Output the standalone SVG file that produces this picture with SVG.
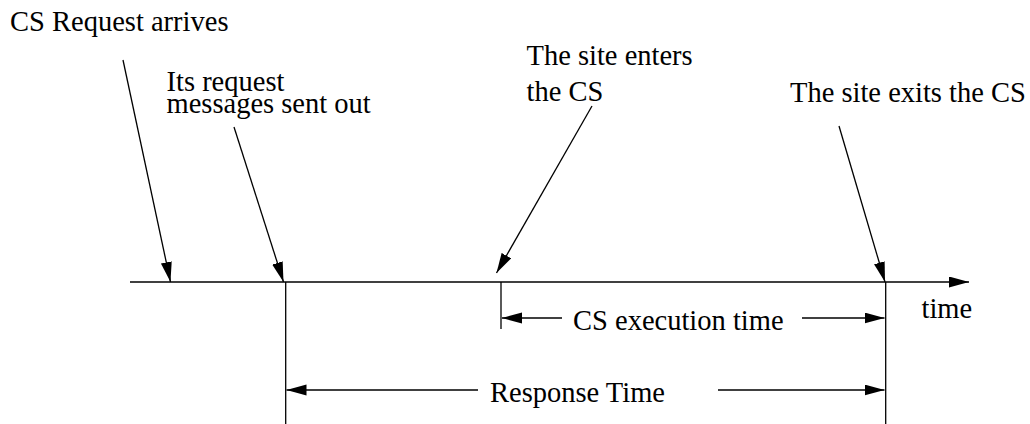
<svg xmlns="http://www.w3.org/2000/svg" width="1030" height="424" viewBox="0 0 1030 424">
<style>
text{font-family:"Liberation Serif","Times New Roman",serif;font-size:28.5px;fill:#000}
.ln{stroke:#000;stroke-width:1.3;fill:none}
.ar{stroke:#000;stroke-width:1.3;fill:none;marker-end:url(#ah)}
</style>
<defs>
<marker id="ah" markerUnits="userSpaceOnUse" markerWidth="22" markerHeight="12" refX="20" refY="5.5" orient="auto" viewBox="0 0 22 12">
<path d="M0,0 L20,5.5 L0,11 z" fill="#000"/>
</marker>
</defs>
<rect width="1030" height="424" fill="#fff"/>
<g id="timeline">
<line class="ar" x1="130" y1="282" x2="969" y2="282"/>
<text x="921.5" y="318">time</text>
</g>
<g id="request-arrives">
<text x="10" y="30.7">CS Request arrives</text>
</g>
<g id="messages-sent">
<text x="166.5" y="90.7">Its request</text>
<text x="166.5" y="113.3">messages sent out</text>
</g>
<g id="site-enters">
<text x="526.5" y="65">The site enters</text>
<text x="526.5" y="101">the CS</text>
</g>
<g id="site-exits">
<text x="790" y="101.7">The site exits the CS</text>
</g>
<g id="cs-execution">
<text x="573" y="330">CS execution time</text>
</g>
<g id="response-time">
<text x="490" y="401.7">Response Time</text>
</g>
<g id="connectors">
<line class="ar" x1="123" y1="60" x2="170.5" y2="282"/>
<line class="ar" x1="234" y1="127" x2="283.5" y2="282"/>
<line class="ar" x1="592" y1="106" x2="496.5" y2="273"/>
<line class="ar" x1="839" y1="126" x2="885" y2="282"/>
<line class="ln" x1="285.7" y1="282" x2="285.7" y2="424"/>
<line class="ln" x1="501" y1="282" x2="501" y2="329"/>
<line class="ln" x1="885.7" y1="282" x2="885.7" y2="424"/>
<line class="ar" x1="562" y1="318" x2="502" y2="318"/>
<line class="ar" x1="802" y1="318" x2="884.5" y2="318"/>
<line class="ar" x1="478" y1="390" x2="286.5" y2="390"/>
<line class="ar" x1="718" y1="390" x2="884.5" y2="390"/>
</g>
</svg>
